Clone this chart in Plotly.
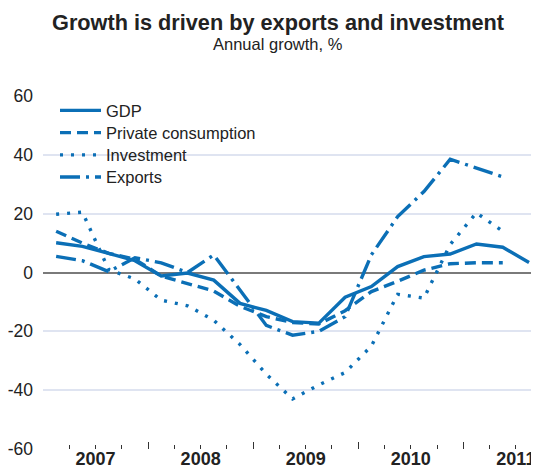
import plotly.graph_objects as go

# ---- data (annual growth, %) ----
quarters = ["2007Q1", "2007Q2", "2007Q3", "2007Q4",
            "2008Q1", "2008Q2", "2008Q3", "2008Q4",
            "2009Q1", "2009Q2", "2009Q3", "2009Q4",
            "2010Q1", "2010Q2", "2010Q3", "2010Q4",
            "2011Q1", "2011Q2", "2011Q3"]
gdp = [10.1, 8.9, 6.5, 4.0, -1.2, -0.2, -2.6, -10.5, -12.9, -16.7, -17.2, -8.4,
       -4.8, 2.0, 5.4, 6.3, 9.7, 8.6, 3.4]
private_consumption = [14.0, 10.0, 6.5, 4.5, -1.2, -3.8, -6.3, -11.5, -15.0, -17.0, -17.5, -13.0,
                       -6.5, -3.0, 0.8, 3.0, 3.3, 3.3, None]
investment = [19.8, 20.5, 1.0, -2.2, -9.4, -11.3, -16.2, -24.5, -34.6, -43.0, -38.2, -34.0,
              -25.0, -7.4, -8.7, 9.5, 20.3, 14.0, None]
exports = [5.5, 4.0, 0.3, 5.0, 3.3, 0.0, 6.0, -6.0, -18.0, -21.3, -20.0, -15.0,
           6.0, 19.0, 27.5, 38.5, 35.5, 32.5, None]
years = [2007, 2008, 2009, 2010, 2011]
year_labels = ["2007", "2008", "2009", "2010", "2011"]
y_ticks = [-60, -40, -20, 0, 20, 40, 60]

# quarter -> position in the middle of the quarter
x = [int(q[:4]) + (int(q[-1]) - 0.5) / 4 for q in quarters]

BLUE = "#0b6fb6"
FONT = "Liberation Sans, Arial, Helvetica, sans-serif"

# figure geometry (page has an 8px body offset)
W, H = 531, 462
ML, MR, MT, MB = 35, 0, 88, 21
PW, PH = W - ML - MR, H - MT - MB

def px_x(v):  # figure px -> paper x
    return (v - ML) / PW

def px_y(v):  # figure px -> paper y
    return (H - MB - v) / PH

series = [
    ("GDP", gdp, "solid", "legend"),
    ("Private consumption", private_consumption, "11px,6px", "legend2"),
    ("Investment", investment, "3px,8px", "legend3"),
    ("Exports", exports, "20px,6px,3px,6px", "legend4"),
]
legend_rows = [102.7, 124.9, 147.1, 169.3]

fig = go.Figure()
for name, vals, dash, lg in series:
    fig.add_trace(go.Scatter(
        x=x, y=vals, name=name, mode="lines", legend=lg,
        line=dict(color=BLUE, width=3.4, dash=dash),
        connectgaps=False, hoverinfo="skip"))

# invisible trace to carry the year labels on a second x axis
fig.add_trace(go.Scatter(x=[years[0] + 0.5], y=[None], xaxis="x2",
                         showlegend=False, hoverinfo="skip"))

legend_common = dict(xanchor="left", yanchor="middle",
                     font=dict(size=16.5, color="#222222", family=FONT),
                     bgcolor="rgba(0,0,0,0)", borderwidth=0, itemwidth=41)
legends = {}
for key, row in zip(["legend", "legend2", "legend3", "legend4"], legend_rows):
    legends[key] = dict(x=px_x(47), y=px_y(row), **legend_common)

xr = [2007, 2011.72]
fig.update_layout(
    width=W, height=H,
    margin=dict(l=ML, r=MR, t=MT, b=MB),
    paper_bgcolor="white", plot_bgcolor="white",
    font=dict(family=FONT, color="#222222", size=16.5),
    title=dict(text="<b>Growth is driven by exports and investment</b>",
               font=dict(size=21.7, color="#222222", family=FONT),
               x=270 / W, xanchor="center", xref="container",
               y=1 - 6.5 / H, yanchor="top", yref="container"),
    showlegend=True,
    xaxis=dict(range=xr, tickvals=years, ticks="inside", ticklen=7,
               tickwidth=1.3, tickcolor="#333333", showticklabels=False,
               showgrid=False, zeroline=False, showline=False,
               minor=dict(dtick=0.25, tick0=2007, ticks="inside", ticklen=4,
                          tickwidth=1.1, tickcolor="#333333", showgrid=False),
               automargin=False, fixedrange=True),
    xaxis2=dict(range=xr, overlaying="x", anchor="free", position=0.009,
                side="bottom",
                tickvals=[yv + 0.5 for yv in years], ticktext=year_labels,
                ticks="", showgrid=False, zeroline=False, showline=False,
                tickfont=dict(size=18, color="#222222", family=FONT,
                              weight="bold"),
                automargin=False, fixedrange=True),
    yaxis=dict(range=[-60, 60], tickvals=y_ticks,
               ticktext=[str(v) for v in y_ticks],
               showgrid=True, gridcolor="#dfe4f1", gridwidth=1.5,
               zeroline=True, zerolinecolor="#7a7a7a", zerolinewidth=2.2,
               ticks="", ticklabelstandoff=9, showline=False,
               tickfont=dict(size=17.5, color="#222222"),
               automargin=False, fixedrange=True),
    annotations=[dict(text="Annual growth, %", x=px_x(270), y=px_y(36),
                      xref="paper", yref="paper", showarrow=False,
                      xanchor="center", yanchor="middle",
                      font=dict(size=16.5, color="#222222"))],
    **legends,
)

fig.write_html("out.html")
